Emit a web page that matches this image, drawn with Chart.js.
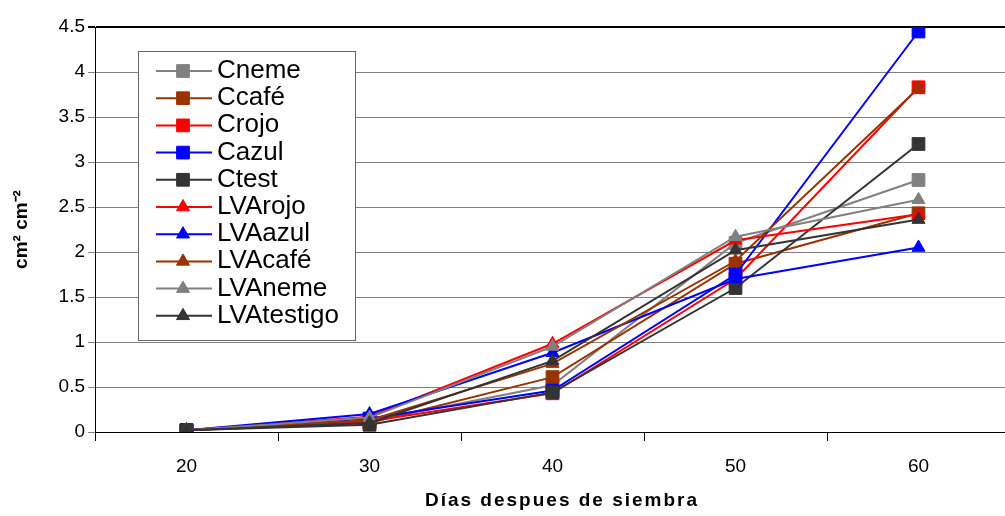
<!DOCTYPE html>
<html>
<head>
<meta charset="utf-8">
<script src="https://cdn.jsdelivr.net/npm/chart.js@4/dist/chart.umd.min.js"></script>
<style>
  html, body { margin: 0; padding: 0; background: #fff; overflow: hidden; }
  #wrap { width: 1005px; height: 516px; overflow: hidden; }
</style>
</head>
<body>
<div id="wrap"><canvas id="chart" width="1020" height="516"></canvas></div>
<script>
// days after sowing
const days = ['20', '30', '40', '50', '60'];

const Cneme      = [0.02, 0.12, 0.52, 2.10, 2.80];
const Ccafe      = [0.02, 0.10, 0.61, 1.87, 2.43];
const Crojo      = [0.02, 0.12, 0.43, 1.70, 3.83];
const Cazul      = [0.02, 0.15, 0.46, 1.75, 4.45];
const Ctest      = [0.02, 0.08, 0.44, 1.60, 3.20];
const LVArojo    = [0.02, 0.17, 0.98, 2.13, 2.42];
const LVAazul    = [0.02, 0.20, 0.88, 1.70, 2.05];
const LVAcafe    = [0.02, 0.13, 0.76, 1.90, 3.82];
const LVAneme    = [0.02, 0.16, 0.95, 2.17, 2.58];
const LVAtestigo = [0.02, 0.10, 0.79, 2.02, 2.36];

const names  = ['Cneme', 'Ccafé', 'Crojo', 'Cazul', 'Ctest', 'LVArojo', 'LVAazul', 'LVAcafé', 'LVAneme', 'LVAtestigo'];
const series = [Cneme, Ccafe, Crojo, Cazul, Ctest, LVArojo, LVAazul, LVAcafe, LVAneme, LVAtestigo];
const colors = ['#808080', '#993300', '#ff0000', '#0000ff', '#333333', '#ff0000', '#0000ff', '#993300', '#808080', '#333333'];
const shapes = ['rect', 'rect', 'rect', 'rect', 'rect', 'triangle', 'triangle', 'triangle', 'triangle', 'triangle'];

const yTicks = [0, 0.5, 1, 1.5, 2, 2.5, 3, 3.5, 4, 4.5];

const FONT = 'Liberation Sans, Arial, sans-serif';

const datasets = series.map((d, i) => ({
  label: names[i],
  data: d,
  borderColor: colors[i],
  backgroundColor: colors[i],
  borderWidth: 2,
  pointStyle: shapes[i],
  pointRadius: shapes[i] === 'rect' ? 9 : 7.5,
  pointBorderWidth: 1,
  tension: 0,
  order: series.length - i   // later series on top, like the original
}));

// legend box inside the plot, line + marker per entry; x title with wide spacing
const extras = {
  id: 'extras',
  afterDatasetsDraw(chart) {
    const c = chart.ctx;
    c.save();
    c.fillStyle = '#fff';
    c.strokeStyle = '#666';
    c.lineWidth = 1;
    c.fillRect(138.5, 51.5, 217, 289);
    c.strokeRect(138.5, 51.5, 217, 289);
    c.font = '26px ' + FONT;
    c.textBaseline = 'alphabetic';
    names.forEach((n, i) => {
      const y = 71 + i * 27.2;
      c.strokeStyle = colors[i];
      c.lineWidth = 2;
      c.beginPath();
      c.moveTo(156, y);
      c.lineTo(212, y);
      c.stroke();
      c.fillStyle = colors[i];
      c.lineWidth = 1;
      Chart.helpers.drawPoint(c, { pointStyle: shapes[i], radius: shapes[i] === 'rect' ? 9 : 7.5, borderWidth: 1 }, 183, y);
      c.fillStyle = '#000';
      c.fillText(n, 217, y + 7);
    });
    c.restore();
  },
  afterDraw(chart) {
    const c = chart.ctx;
    c.save();
    c.font = 'bold 19px ' + FONT;
    c.letterSpacing = '2px';
    c.fillStyle = '#000';
    c.textAlign = 'center';
    c.textBaseline = 'middle';
    c.fillText('Días despues de siembra', 562, 501);
    c.restore();
  }
};

const ctx = document.getElementById('chart').getContext('2d');
const myChart = new Chart(ctx, {
  type: 'line',
  data: { labels: days, datasets: datasets },
  options: {
    responsive: false,
    animation: false,
    layout: { padding: { top: 27, right: 6, left: 0, bottom: 0 } },
    plugins: { legend: { display: false }, tooltip: { enabled: false } },
    scales: {
      x: {
        offset: true,
        grid: { offset: true, drawOnChartArea: false, drawTicks: true, tickLength: 9, color: '#000' },
        border: { color: '#000', width: 1 },
        ticks: { font: { family: FONT, size: 19 }, color: '#000', padding: 14 },
        afterFit(s) { s.height = 84; }
      },
      y: {
        min: 0,
        max: 4.5,
        afterBuildTicks(s) { s.ticks = yTicks.map(v => ({ value: v })); },
        grid: {
          color: c => c.tick && c.tick.value === 4.5 ? '#000' : '#808080',
          lineWidth: c => c.tick && c.tick.value === 4.5 ? 2 : 1,
          tickLength: 7
        },
        border: { color: '#000', width: 1 },
        ticks: {
          font: { family: FONT, size: 19 },
          color: '#000',
          padding: 3,
          callback: v => String(v)
        },
        title: {
          display: true,
          text: 'cm² cm⁻²',
          font: { family: FONT, size: 19, weight: 'bold' },
          color: '#000',
          padding: { top: 10, bottom: 0 }
        },
        afterFit(s) { s.width = 95; }
      }
    }
  },
  plugins: [extras]
});
</script>
</body>
</html>
